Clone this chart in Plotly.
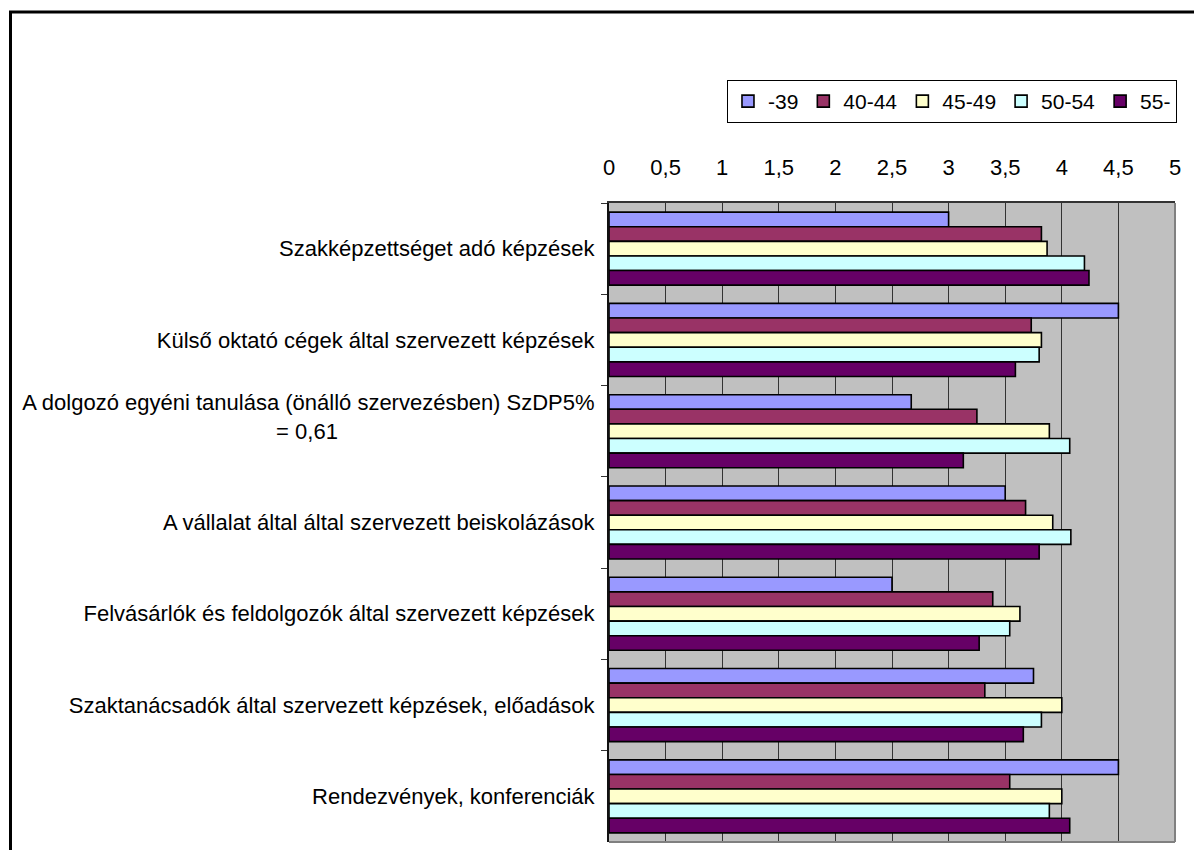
import plotly.graph_objects as go

NB = "\u00a0"
categories = [
    "Szakképzettséget adó képzések",
    "Külső oktató cégek által szervezett képzések",
    "A dolgozó egyéni tanulása (önálló szervezésben) SzDP5%<br>= 0,61" + NB * 42 + "<br>" + NB,
    "A vállalat által által szervezett beiskolázások",
    "Felvásárlók és feldolgozók által szervezett képzések",
    "Szaktanácsadók által szervezett képzések, előadások",
    "Rendezvények, konferenciák",
]

series_names = ["-39", "40-44", "45-49", "50-54", "55-"]
s_39 = [3.0, 4.5, 2.67, 3.5, 2.5, 3.75, 4.5]
s_40_44 = [3.82, 3.73, 3.25, 3.68, 3.39, 3.32, 3.54]
s_45_49 = [3.87, 3.82, 3.89, 3.92, 3.63, 4.0, 4.0]
s_50_54 = [4.2, 3.8, 4.07, 4.08, 3.54, 3.82, 3.89]
s_55 = [4.24, 3.59, 3.13, 3.8, 3.27, 3.66, 4.07]
series_values = [s_39, s_40_44, s_45_49, s_50_54, s_55]
colors = ["#9999FF", "#993366", "#FFFFCC", "#CCFFFF", "#660066"]

x_ticks = [0, 0.5, 1, 1.5, 2, 2.5, 3, 3.5, 4, 4.5, 5]

FONT = "Liberation Sans, Arial, sans-serif"

fig = go.Figure()
for name, vals, col in zip(series_names, series_values, colors):
    fig.add_trace(go.Bar(
        y=categories, x=vals, name=name, orientation="h",
        marker=dict(color=col, line=dict(color="#000000", width=1.6)),
    ))

fig.update_layout(
    width=1194, height=850,
    margin=dict(l=609, r=19, t=203, b=8),
    paper_bgcolor="white",
    plot_bgcolor="#C0C0C0",
    barmode="group",
    bargap=0.2,
    bargroupgap=0,
    separators=", ",
    font=dict(family=FONT, size=22, color="#000000"),
    showlegend=True,
    legend=dict(
        orientation="h", x=1.0035, xanchor="right", y=1.1925, yanchor="top",
        bgcolor="white", bordercolor="#000000", borderwidth=1,
        font=dict(family=FONT, size=21, color="#000000"),
        traceorder="normal",
    ),
    xaxis=dict(
        side="top", range=[0, 5], tickvals=x_ticks, showgrid=True,
        gridcolor="#333333", gridwidth=1, zeroline=False,
        showline=True, linecolor="#333333", linewidth=2,
        ticks="", ticklabelstandoff=17,
        tickfont=dict(family=FONT, size=22),
    ),
    yaxis=dict(
        autorange="reversed", type="category", tickson="boundaries",
        ticks="outside", ticklen=6, tickcolor="#333333", tickwidth=1,
        showline=True, linecolor="#111111", linewidth=2,
        showgrid=False, zeroline=False, ticklabelstandoff=8,
        tickfont=dict(family=FONT, size=22),
    ),
)

# plot area right/bottom border (gray)
fig.add_shape(type="line", xref="x domain", yref="y domain", x0=1, x1=1, y0=0, y1=1,
              line=dict(color="#808080", width=2))
fig.add_shape(type="line", xref="x domain", yref="y domain", x0=0, x1=1, y0=0, y1=0,
              line=dict(color="#808080", width=2))
# outer chart frame
fig.add_shape(type="rect", xref="paper", yref="paper",
              x0=(10.5 - 609) / 566, x1=(1210 - 609) / 566,
              y0=(842 - 870) / 639, y1=(842 - 12) / 639,
              line=dict(color="#000000", width=3), fillcolor="rgba(0,0,0,0)", layer="above")

fig.write_html("out.html")
